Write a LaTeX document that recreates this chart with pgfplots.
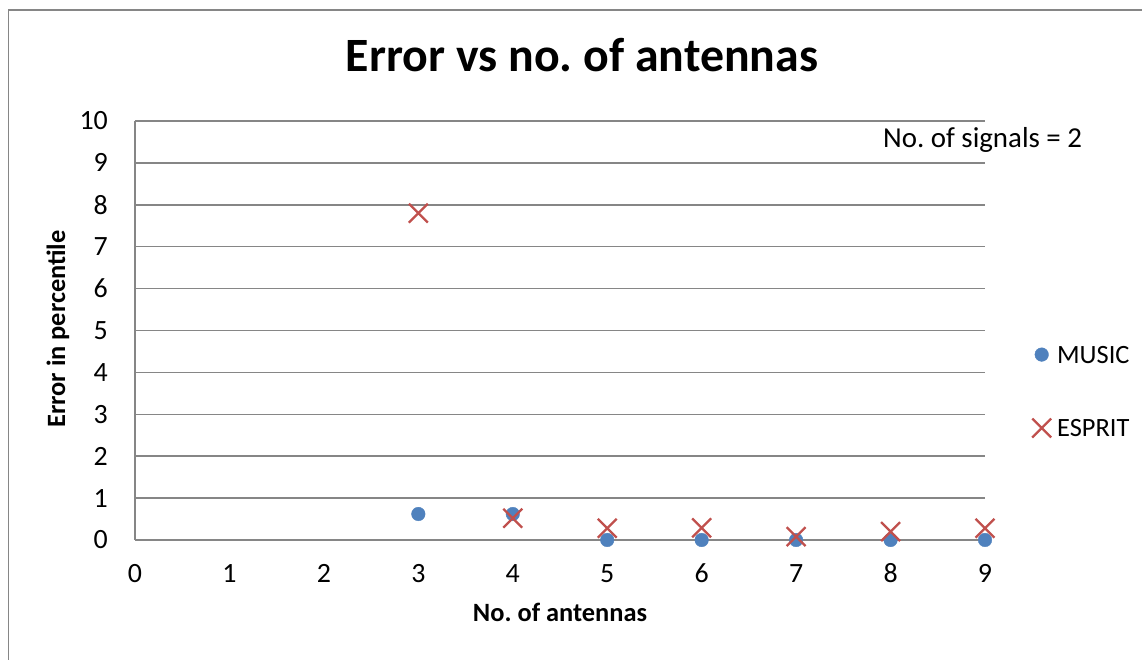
\documentclass[border=0pt]{standalone}
\usepackage{fontspec}
\setmainfont{Carlito}
\usepackage{pgfplots}
\pgfplotsset{compat=1.18}
\frenchspacing

\definecolor{musicblue}{HTML}{4F81BD}
\definecolor{espritred}{HTML}{C0504D}
\definecolor{gridgray}{HTML}{868686}

\begin{document}
\begin{tikzpicture}[x=1bp,y=1bp]
\useasboundingbox (0,0) rectangle (1142,660);
\draw[gridgray, line width=1.5bp] (8.5,-20) -- (8.5,650) -- (1170,650);
\begin{axis}[
  at={(135bp,120bp)}, anchor=south west,
  width=850bp, height=419bp, scale only axis,
  xmin=0, xmax=9, ymin=0, ymax=10,
  xtick={0,1,2,3,4,5,6,7,8,9}, ytick={0,1,2,3,4,5,6,7,8,9,10},
  axis x line*=bottom, axis y line*=left,
  major tick length=0pt,
  ymajorgrids, grid style={gridgray, line width=1.5bp},
  axis line style={gridgray, line width=1.5bp},
  tick label style={font=\fontsize{28}{32}\selectfont, inner sep=0pt, text=black},
  /pgf/number format/assume math mode=true,
  xticklabel style={anchor=base, yshift=-43bp},
  yticklabel style={anchor=east, xshift=-27bp},
  clip=false,
  legend style={draw=none, fill=none, at={(1.0553,0.3532)}, anchor=west,
    font=\fontsize{26.5}{30}\selectfont, row sep=54bp, column sep=6bp, inner sep=0pt,
    nodes={inner sep=0pt, anchor=base west}},
  legend cell align=left,
  legend image code/.code={\draw[mark repeat=2,mark phase=2,#1] plot coordinates {(0bp,8.5bp)(7bp,8.5bp)(14bp,8.5bp)};},
]
\addplot[only marks, mark=*, mark size=6.8bp, color=musicblue, mark options={draw=musicblue, fill=musicblue}]
  coordinates {(3,0.62)(4,0.62)(5,0)(6,0)(7,0)(8,0)(9,0)};
\addlegendentry{MUSIC}
\addplot[only marks, mark=x, mark size=13.4bp, color=espritred, line width=2.3bp]
  coordinates {(3,7.8)(4,0.52)(5,0.28)(6,0.29)(7,0.08)(8,0.2)(9,0.28)};
\addlegendentry{ESPRIT}
\end{axis}
\node[anchor=base, font=\fontsize{48}{52}\selectfont\bfseries] at (582,588) {Error vs no. of antennas};
\node[anchor=base, font=\fontsize{26.5}{30}\selectfont\bfseries] at (560,38.3) {No. of antennas};
\node[rotate=90, anchor=base, font=\fontsize{26.5}{30}\selectfont\bfseries] at (65,331) {Error in percentile};
\node[anchor=base west, inner sep=0pt, font=\fontsize{29}{32}\selectfont] at (883,512) {No. of signals = 2};
\end{tikzpicture}
\end{document}
